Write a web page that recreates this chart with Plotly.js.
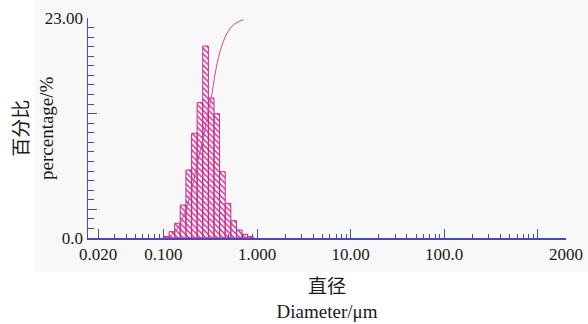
<!DOCTYPE html>
<html>
<head>
<meta charset="utf-8">
<script src="https://cdn.plot.ly/plotly-3.0.1.min.js"></script>
<style>html,body{margin:0;padding:0;background:#fff;}#chart{width:588px;height:324px;}</style>
</head>
<body>
<div id="chart"></div>
<script>
// Histogram bins (µm) and percentage per bin
const binEdges = [0.100, 0.115, 0.132, 0.151, 0.174, 0.200, 0.229, 0.263, 0.302, 0.347, 0.398, 0.457, 0.525, 0.603, 0.692, 0.794, 0.912];
const percent  = [0.15, 0.66, 1.54, 3.45, 7.11, 10.95, 14.15, 20.07, 14.64, 13.0, 6.93, 3.63, 1.81, 0.84, 0.39, 0.14];

// Cumulative curve (µm, %)
const cumDiameter = [0.117, 0.139, 0.158, 0.178, 0.202, 0.234, 0.271, 0.299, 0.327, 0.355, 0.401, 0.473, 0.557, 0.641, 0.716];
const cumPercent  = [0.5, 4.1, 8.2, 14.2, 22.9, 35.7, 47.2, 57.7, 65.1, 74.7, 85.2, 93.5, 97.6, 99.2, 100];

// Axis ticks
const xMajorVals = [0.02, 0.1, 1, 10, 100, 1000];
const xMajorText = ['0.020', '0.100', '1.000', '10.00', '100.0', ''];
const xMinorVals = [0.03,0.04,0.05,0.06,0.07,0.08,0.09, 0.2,0.3,0.4,0.5,0.6,0.7,0.8,0.9,
                    2,3,4,5,6,7,8,9, 20,30,40,50,60,70,80,90, 200,300,400,500,600,700,800,900];
const xEndVals = [2000];
const xEndText = ['2000'];
const yMajorVals = [0, 3, 13, 23];
const yMajorText = ['0.0', '', '', '23.00'];
const yMinorVals = [1,2,4,5,6,7,8,9,10,11,12,14,15,16,17,18,19,20,21,22];
const yTitle = '百分比<br>percentage/%';
const xTitle = '直径<br>Diameter/μm';

const binLeft = binEdges.slice(0, -1);
const binWidth = binLeft.map((v, i) => binEdges[i + 1] - v);

const AX = '#4a4ab2';
const MAG = '#c8288f';
const FONT = 'Liberation Serif, Times New Roman, Noto Sans CJK SC, serif';
const TXT = '#1a1a1a';

const traces = [
  {
    type: 'bar',
    x: binLeft,
    y: percent,
    width: binWidth,
    offset: 0,
    marker: {
      color: '#fdf3f9',
      line: {color: MAG, width: 1},
      pattern: {shape: '\\', fgcolor: MAG, size: 4, solidity: 0.35}
    },
    hoverinfo: 'skip'
  },
  {
    type: 'scatter',
    mode: 'lines',
    x: cumDiameter,
    y: cumPercent,
    xaxis: 'x2',
    yaxis: 'y2',
    line: {color: '#d0459e', width: 1, shape: 'spline'},
    hoverinfo: 'skip'
  }
];

const xRange = [Math.log10(0.02) - 0.107, Math.log10(2000)];

const layout = {
  width: 588,
  height: 324,
  margin: {l: 88, r: 22, t: 18, b: 86},
  paper_bgcolor: '#ffffff',
  plot_bgcolor: 'rgba(0,0,0,0)',
  showlegend: false,
  bargap: 0,
  font: {family: FONT, color: TXT},
  shapes: [{
    type: 'rect', xref: 'paper', yref: 'paper', layer: 'below',
    x0: -0.111, x1: 1.05, y0: -0.155, y1: 1.09,
    fillcolor: '#f8f8f8', line: {width: 0}
  }],
  annotations: [{
    text: yTitle, textangle: -90,
    xref: 'paper', yref: 'paper',
    x: (34 - 88) / 478, y: 0.5,
    xanchor: 'center', yanchor: 'middle',
    showarrow: false,
    font: {family: FONT, size: 19, color: TXT}
  }],
  xaxis: {
    type: 'log',
    range: xRange,
    showline: true, linecolor: AX, linewidth: 1.5,
    showgrid: false, zeroline: false,
    tickmode: 'array', tickvals: xMajorVals, ticktext: xMajorText,
    ticks: 'inside', ticklen: 9, tickcolor: AX, tickwidth: 1,
    minor: {tickmode: 'array', tickvals: xMinorVals, ticks: 'inside', ticklen: 4, tickcolor: AX, tickwidth: 1, showgrid: false},
    tickfont: {family: FONT, size: 17, color: TXT},
    layer: 'below traces',
    title: {text: xTitle, font: {family: FONT, size: 19, color: TXT}, standoff: 17},
    automargin: false
  },
  xaxis2: {
    type: 'log',
    range: xRange,
    overlaying: 'x',
    anchor: 'y',
    side: 'bottom',
    showline: true, linecolor: AX, linewidth: 1.5,
    showgrid: false, zeroline: false,
    tickmode: 'array', tickvals: xEndVals, ticktext: xEndText,
    ticks: 'inside', ticklen: 4, tickcolor: AX, tickwidth: 1,
    tickfont: {family: FONT, size: 17, color: TXT}
  },
  yaxis: {
    range: [0, 23],
    showline: true, linecolor: AX, linewidth: 1.5,
    showgrid: false, zeroline: false,
    tickmode: 'array', tickvals: yMajorVals, ticktext: yMajorText,
    ticks: 'inside', ticklen: 9, tickcolor: AX, tickwidth: 1,
    minor: {tickmode: 'array', tickvals: yMinorVals, ticks: 'inside', ticklen: 6, tickcolor: AX, tickwidth: 1, showgrid: false},
    tickfont: {family: FONT, size: 17, color: TXT},
    automargin: false
  },
  yaxis2: {
    range: [0, 100.8],
    overlaying: 'y',
    anchor: 'x',
    visible: false
  }
};

Plotly.newPlot('chart', traces, layout, {displayModeBar: false, staticPlot: true});
</script>
</body>
</html>
